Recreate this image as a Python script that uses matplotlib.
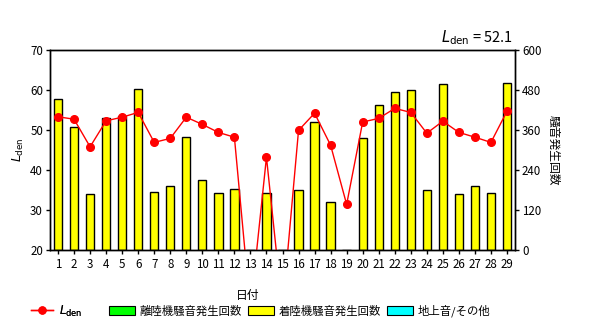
import numpy as np
import matplotlib
matplotlib.use("Agg")
import matplotlib.pyplot as plt
from matplotlib.lines import Line2D
from matplotlib.patches import Patch

plt.rcParams['font.family'] = ['Noto Sans CJK JP', 'DejaVu Sans']
plt.rcParams['mathtext.fontset'] = 'dejavusans'

days = list(range(1, 30))
day_labels = [str(d) for d in days]

# daily Lden (dB); 13 and 15 fall below the axis range
lden = [53.3, 52.7, 45.8, 52.3, 53.2, 54.4, 46.9, 47.9, 53.2, 51.4,
        49.4, 48.2, 5.0, 43.2, 5.0, 49.9, 54.2, 46.2, 31.4, 52.0,
        52.9, 55.4, 54.4, 49.2, 52.2, 49.4, 48.2, 46.9, 54.7]

# noise event counts per day
takeoff = [0] * 29
landing = [452, 368, 168, 395, 402, 482, 173, 192, 338, 209,
           170, 182, 0, 170, 0, 180, 383, 143, 0, 336,
           434, 474, 479, 179, 497, 167, 192, 170, 501]
ground = [0] * 29

lden_total = 52.1

fig = plt.figure(figsize=(6.0, 3.29), dpi=100)
ax = fig.add_axes([50 / 600, 1 - 250 / 329, 465 / 600, 200 / 329])
ax2 = ax.twinx()

x = np.array(days)
w = 0.52
bottom2 = np.array(takeoff) + np.array(landing)
ax2.bar(x, takeoff, w, color='#00ff00', edgecolor='black', linewidth=0)
ax2.bar(x, landing, w, bottom=takeoff, color='#ffff00', edgecolor='black', linewidth=1)
ax2.bar(x, ground, w, bottom=bottom2, color='#00ffff', edgecolor='black', linewidth=0)
ax2.set_ylim(0, 600)
ax2.set_yticks(range(0, 601, 120))

ax.plot(x, lden, color='red', lw=1, marker='o', ms=5.5, mec='red', mfc='red')
ax.set_ylim(20, 70)
ax.set_yticks(range(20, 71, 10))
ax.set_xlim(0.5, 29.5)
ax.set_xticks(x)
ax.set_xticklabels(day_labels)

ax.set_zorder(ax2.get_zorder() + 1)
ax.patch.set_visible(False)

for a in (ax, ax2):
    a.tick_params(labelsize=8.3, length=3, width=1, direction='out', pad=2)
    for s in a.spines.values():
        s.set_linewidth(1)
ax.tick_params(axis='x', pad=3)

ax.set_ylabel(r'$\mathit{L}_{\rm den}$', fontsize=9, labelpad=3)
ax2.set_ylabel('騒音発生回数', fontsize=8.5, rotation=270, labelpad=13)

fig.text(248 / 600, 1 - 295 / 329, '日付', fontsize=8.5, ha='center', va='center')
fig.text(513 / 600, 1 - 38 / 329, r'$\mathit{L}_{\rm den}$ = ' + f'{lden_total}',
         fontsize=10.5, ha='right', va='center')

# legend: Lden line on its own, then the three count categories
leg_y = 1 - 311 / 329
line_handle = Line2D([], [], color='red', lw=1, marker='o', ms=5, mfc='red', mec='red')
leg1 = fig.legend([line_handle], [r'$\mathit{L}_{\rm den}$'], loc='center left',
                  bbox_to_anchor=(31 / 600, leg_y), frameon=False, fontsize=8.5,
                  handlelength=1.9, handletextpad=0.45, borderpad=0, borderaxespad=0)
patches = [
    Patch(facecolor='#00ff00', edgecolor='black', lw=0.8),
    Patch(facecolor='#ffff00', edgecolor='black', lw=0.8),
    Patch(facecolor='#00ffff', edgecolor='black', lw=0.8),
]
fig.legend(patches, ['離陸機騒音発生回数', '着陸機騒音発生回数', '地上音/その他'],
           loc='center left', bbox_to_anchor=(109 / 600, leg_y), ncol=3, frameon=False,
           fontsize=8.2, handlelength=2.3, handleheight=0.85, handletextpad=0.42,
           columnspacing=0.5, borderpad=0, borderaxespad=0)
fig.add_artist(leg1)

fig.savefig('out.png', dpi=100)
